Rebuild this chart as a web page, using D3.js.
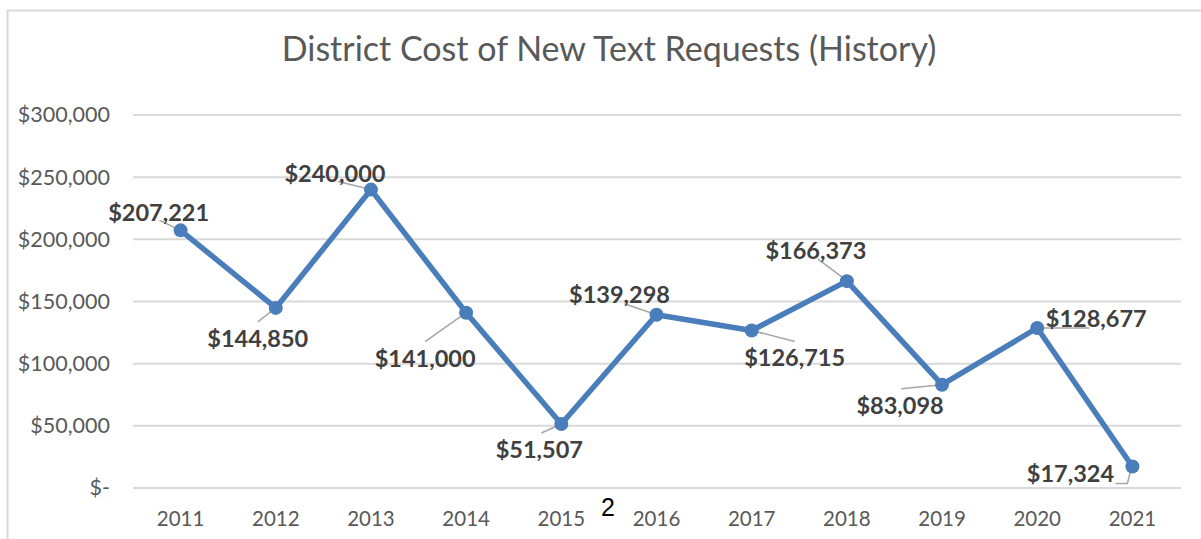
<!DOCTYPE html>
<html>
<head>
<meta charset="utf-8">
<script src="https://cdn.jsdelivr.net/npm/d3@7"></script>
<style>
  html, body { margin: 0; padding: 0; background: #fff; }
  svg { display: block; font-family: Lato, "Open Sans", sans-serif; }
</style>
</head>
<body>
<div id="chart"></div>
<script>
// chart values
const years = ["2011", "2012", "2013", "2014", "2015", "2016", "2017", "2018", "2019", "2020", "2021"];
const costs = [207221, 144850, 240000, 141000, 51507, 139298, 126715, 166373, 83098, 128677, 17324];
const yTicks = [0, 50000, 100000, 150000, 200000, 250000, 300000];
const chartTitle = "District Cost of New Text Requests (History)";

// where each data label sits relative to its point (dx, dy of text baseline centre) + leader line
const labelLayout = [
    {dx: -22, dy: -9,  leader: [[-21, -10], [0, 0]]},
    {dx: -18, dy: 39,  leader: [[-18, 14], [0, 0]]},
    {dx: -36, dy: -8,  leader: [[-33, -8], [0, 0]]},
    {dx: -41, dy: 54,  leader: [[-41, 29], [0, 0]]},
    {dx: -22, dy: 34,  leader: [[-20, 9], [0, 0]]},
    {dx: -37, dy: -12, leader: [[-32, -11], [0, 0]]},
    {dx: 43,  dy: 36,  leader: [[0, 0], [43, 11]]},
    {dx: -31, dy: -22, leader: [[-29, -22], [-2, -2]]},
    {dx: -42, dy: 29,  leader: [[-41, 4], [0, 0]]},
    {dx: 59,  dy: -1,  leader: [[0, 0], [52, 0]]},
    {dx: -62, dy: 16,  leader: [[-17, 17], [-5, 17], [-1, 1]]}
];

const width = 1201, height = 539;
const margin = {top: 115, right: 20, bottom: 51, left: 133};

const svg = d3.select("#chart").append("svg")
    .attr("width", width)
    .attr("height", height)
    .attr("viewBox", [0, 0, width, height]);

// chart area border (left + top visible)
svg.append("path")
    .attr("d", `M7.5,${height} V10.5 H${width}`)
    .attr("fill", "none")
    .attr("stroke", "#d9d9d9")
    .attr("stroke-width", 2);

const x = d3.scaleBand(years, [margin.left, width - margin.right - 1]);
const y = d3.scaleLinear([0, 300000], [height - margin.bottom, margin.top]);
const cx = d => x(d) + x.bandwidth() / 2;

const fmtMoney = d3.format("$,");
const tickFmt = d => d === 0 ? "$-" : fmtMoney(d);

// title
svg.append("text")
    .attr("x", 609)
    .attr("y", 61)
    .attr("text-anchor", "middle")
    .attr("fill", "#595959")
    .attr("font-size", 34)
    .text(chartTitle);

// gridlines
svg.append("g")
    .selectAll("line")
    .data(yTicks)
    .join("line")
    .attr("x1", margin.left)
    .attr("x2", width - margin.right)
    .attr("y1", d => y(d))
    .attr("y2", d => y(d))
    .attr("stroke", "#d9d9d9")
    .attr("stroke-width", 2);

// y axis
const yAxis = svg.append("g")
    .attr("transform", `translate(${margin.left - 23},0)`)
    .call(d3.axisLeft(y).tickValues(yTicks).tickFormat(tickFmt).tickSize(0).tickPadding(0))
    .call(g => g.select(".domain").remove());
yAxis.selectAll("text")
    .attr("fill", "#595959")
    .attr("font-size", 21.5)
    .attr("font-family", "Lato, sans-serif");

// x axis
const xAxis = svg.append("g")
    .attr("transform", `translate(0,${height - margin.bottom})`)
    .call(d3.axisBottom(x).tickSize(0).tickPadding(23))
    .call(g => g.select(".domain").remove());
xAxis.selectAll("text")
    .attr("fill", "#595959")
    .attr("font-size", 20.5)
    .attr("font-family", "Lato, sans-serif");

// stray page number from the source document
svg.append("text")
    .attr("x", 608)
    .attr("y", 516)
    .attr("text-anchor", "middle")
    .attr("font-family", "Liberation Sans, Arial, sans-serif")
    .attr("font-size", 25)
    .attr("fill", "#000")
    .text("2");

const series = years.map((yr, i) => ({year: yr, value: costs[i], layout: labelLayout[i]}));

// leader lines
const leaderLine = d3.line();
svg.append("g")
    .selectAll("path")
    .data(series)
    .join("path")
    .attr("d", d => leaderLine(d.layout.leader.map(([dx, dy]) => [cx(d.year) + dx, y(d.value) + dy])))
    .attr("fill", "none")
    .attr("stroke", "#a6a6a6")
    .attr("stroke-width", 1.5);

// line
svg.append("path")
    .datum(series)
    .attr("d", d3.line().x(d => cx(d.year)).y(d => y(d.value)))
    .attr("fill", "none")
    .attr("stroke", "#4a7ebb")
    .attr("stroke-width", 5.5)
    .attr("stroke-linejoin", "round");

// markers
svg.append("g")
    .selectAll("circle")
    .data(series)
    .join("circle")
    .attr("cx", d => cx(d.year))
    .attr("cy", d => y(d.value))
    .attr("r", 7)
    .attr("fill", "#4a7ebb");

// data labels
svg.append("g")
    .selectAll("text")
    .data(series)
    .join("text")
    .attr("x", d => cx(d.year) + d.layout.dx)
    .attr("y", d => y(d.value) + d.layout.dy)
    .attr("text-anchor", "middle")
    .attr("font-weight", "bold")
    .attr("font-size", 23.5)
    .attr("fill", "#404040")
    .text(d => fmtMoney(d.value));
</script>
</body>
</html>
